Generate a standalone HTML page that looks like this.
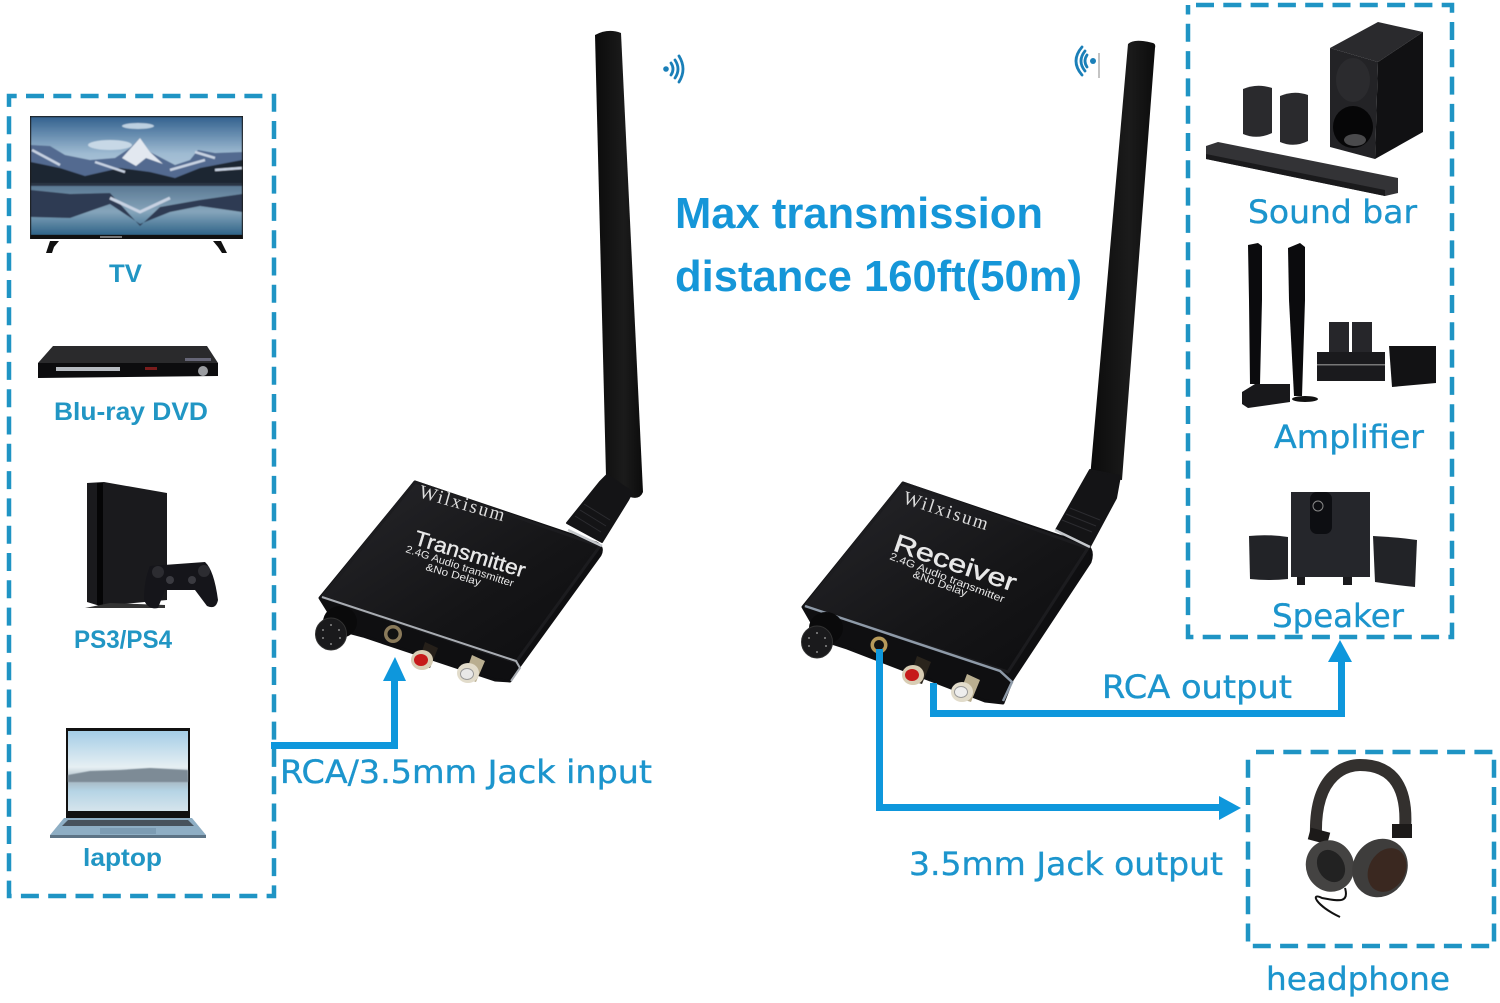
<!DOCTYPE html>
<html lang="en">
<head>
<meta charset="utf-8">
<title>Wireless audio transmitter and receiver</title>
<style>
html,body{margin:0;padding:0;background:#fff;width:1500px;height:1003px;overflow:hidden}
svg{display:block}
.thin{font-family:"DejaVu Sans","Liberation Sans",sans-serif;font-size:32px;fill:#1c95cd;stroke:#1c95cd;stroke-width:.35}
.lbl{font-family:"Liberation Sans",sans-serif;font-weight:700;font-size:25px;fill:#2196c4}
.ttl{font-family:"Liberation Sans",sans-serif;font-weight:700;font-size:44px;fill:#1596d8}
.dev{font-family:"Liberation Sans",sans-serif;fill:#e8e8e8}
.ser{font-family:"Liberation Serif",serif;fill:#ddd}
</style>
</head>
<body>
<svg width="1500" height="1003" viewBox="0 0 1500 1003" xmlns="http://www.w3.org/2000/svg">
<defs>
<linearGradient id="sky" x1="0" y1="0" x2="0" y2="1"><stop offset="0" stop-color="#33628f"/><stop offset=".55" stop-color="#9fbbd2"/><stop offset="1" stop-color="#b9ccdc"/></linearGradient>
<linearGradient id="lake" x1="0" y1="0" x2="0" y2="1"><stop offset="0" stop-color="#56748f"/><stop offset=".55" stop-color="#86a5bb"/><stop offset="1" stop-color="#2f6488"/></linearGradient>
<linearGradient id="lap" x1="0" y1="0" x2="0" y2="1"><stop offset="0" stop-color="#a4cde6"/><stop offset=".45" stop-color="#e6eff3"/><stop offset=".62" stop-color="#a7b8c2"/><stop offset=".75" stop-color="#b5d4e5"/><stop offset="1" stop-color="#d5e4ec"/></linearGradient>
<linearGradient id="ant" x1="0" y1="0" x2="1" y2="0"><stop offset="0" stop-color="#0b0b0b"/><stop offset=".6" stop-color="#1b1b1b"/><stop offset="1" stop-color="#0c0c0c"/></linearGradient>
<linearGradient id="box" x1="0" y1="0" x2="1" y2="1"><stop offset="0" stop-color="#26262a"/><stop offset=".6" stop-color="#151517"/><stop offset="1" stop-color="#0d0d0f"/></linearGradient>
<filter id="soft" x="-5%" y="-5%" width="110%" height="110%"><feGaussianBlur stdDeviation=".6"/></filter>
</defs>
<rect width="1500" height="1003" fill="#fff"/>

<!-- dashed frames -->
<g fill="none" stroke="#1f94c4" stroke-width="4.500" stroke-dasharray="18 9.300">
<path d="M9 96H274V896H9Z" stroke-dashoffset="-17"/>
<path d="M1188 5H1452V637H1188Z" stroke-dashoffset="-8"/>
<path d="M1248 752H1494V946H1248Z" stroke-dashoffset="-8"/>
</g>

<!-- TV -->
<rect x="30" y="116" width="213" height="123" fill="#1a1a1a"/>
<g filter="url(#soft)">
<rect x="31" y="117" width="211" height="67" fill="url(#sky)"/>
<ellipse cx="110" cy="145" rx="22" ry="5" fill="#c7d8e6"/><ellipse cx="138" cy="126" rx="16" ry="3" fill="#bcd0e1"/>
<polygon points="31,145 50,146 65,155 90,160 115,158 130,148 140,138 150,152 175,165 190,160 198,150 215,153 242,152 242,183 31,183" fill="#536a90"/>
<polygon points="31,162 60,168 85,176 120,168 150,172 175,178 200,168 242,160 242,183 31,183" fill="#1f2530"/>
<polygon points="122,158 140,138 150,152 163,164 146,158 136,166" fill="#e2e8f0"/>
<path d="M32 150 L60 165 M95 162 L125 172 M170 170 L205 160 M195 152 L215 158 M215 170 L242 168" stroke="#c7d2e2" stroke-width="2.500" fill="none"/>
<rect x="31" y="183" width="211" height="52" fill="url(#lake)"/>
<polygon points="31,190 70,194 110,193 140,226 160,207 200,200 242,194 242,212 200,206 170,212 140,224 110,204 70,218 31,217" fill="#2e3a52"/>
<path d="M110 198 L140 212 L170 198" stroke="#c7d2e2" stroke-width="3" fill="none"/>
<rect x="31" y="183" width="211" height="3" fill="#2a3644"/>
</g>
<rect x="31" y="235" width="211" height="4" fill="#111"/>
<rect x="100" y="236" width="22" height="2" fill="#777"/>
<path d="M46 253 L50 241 H59 L54 247 L52 253Z M213 241 H221 L227 253 L222 253 L218 247Z" fill="#111"/>

<!-- DVD -->
<polygon points="53,346 207,346 218,363 38,363" fill="#2a2a2c"/>
<polygon points="38,363 218,363 218,376 38,378" fill="#0c0c0e"/>
<rect x="56" y="367" width="64" height="4" fill="#b6bac0"/>
<circle cx="203" cy="371" r="5" fill="#9a9ca0"/>
<rect x="145" y="367" width="12" height="3" fill="#7a1c1c"/>
<rect x="185" y="358" width="26" height="3" fill="#667"/>

<!-- PS4 -->
<polygon points="87,483 104,482 167,493 167,600 100,606 87,602" fill="#1a1a1d"/>
<rect x="97" y="483" width="6" height="122" fill="#050506"/>
<path d="M85 608 L110 603 L165 605 L165 608Z" fill="#333"/>
<path d="M150 566 L205 562 Q214 570 218 600 Q216 610 207 606 L195 590 H165 L158 608 Q148 610 144 600 Q144 580 150 566Z" fill="#15151a"/>
<circle cx="158" cy="572" r="6" fill="#2c2c31"/><circle cx="204" cy="571" r="6" fill="#2c2c31"/>
<circle cx="170" cy="580" r="4" fill="#3a3a40"/><circle cx="192" cy="580" r="4" fill="#3a3a40"/>

<!-- Laptop -->
<rect x="66" y="728" width="124" height="90" fill="#111"/>
<rect x="68" y="731" width="120" height="80" fill="url(#lap)"/>
<polygon points="68,775 90,771 120,770 150,768 188,770 188,782 68,782" fill="#7d8b96" filter="url(#soft)"/>
<polygon points="64,818 192,818 206,835 50,835" fill="#8eaec4"/>
<rect x="50" y="835" width="156" height="3" fill="#5d7486"/>
<polygon points="68,820 188,820 194,826 62,826" fill="#47525c"/>
<rect x="100" y="828" width="56" height="6" fill="#7c9cb3"/>

<!-- Left labels -->
<text class="lbl" x="109" y="282" textLength="33" lengthAdjust="spacingAndGlyphs">TV</text>
<text class="lbl" x="54" y="420" textLength="154" lengthAdjust="spacingAndGlyphs">Blu-ray DVD</text>
<text class="lbl" x="74" y="648" textLength="98" lengthAdjust="spacingAndGlyphs">PS3/PS4</text>
<text class="lbl" x="83" y="866" textLength="79" lengthAdjust="spacingAndGlyphs">laptop</text>

<!-- Transmitter antenna -->
<path d="M595 35 Q608 28 621 33 L643 492 Q640 500 630 497 L606 476Z" fill="url(#ant)"/>
<path d="M600 482 L607 475 L632 492 L628 500 L602 542 L567 523Z" fill="#141416" stroke="#141416" stroke-width="2" stroke-linejoin="round"/>
<g stroke="#2c2c30" stroke-width="1"><path d="M584 504 L610 520M580 510 L606 526M575 516 L601 532"/></g>
<!-- Transmitter body -->
<path d="M415 482 L596 543 Q604 547 600 555 L518 668 L510 681 L495 680 L363 636 L340 630 L320 598 Z" fill="#0f0f11" stroke="#0f0f11" stroke-width="3" stroke-linejoin="round"/>
<polygon points="415,482 600,546 516,662 322,597" fill="url(#box)" stroke="#1c1c1f" stroke-width="3" stroke-linejoin="round"/>
<path d="M322 597 L516 661 L520 668 L511 681" fill="none" stroke="#a8acb2" stroke-width="2"/>
<path d="M568 530 L602 546" stroke="#c5c8cc" stroke-width="2.500"/>
<text class="ser" font-size="19" letter-spacing="2" transform="translate(418 497) rotate(16)">Wilxisum</text>
<text class="dev" font-size="21" stroke="#e8e8e8" stroke-width=".4" transform="translate(413 544) rotate(17)" textLength="115" lengthAdjust="spacingAndGlyphs">Transmitter</text>
<text class="dev" font-size="10.500" transform="translate(405 552) rotate(18)" textLength="113" lengthAdjust="spacingAndGlyphs">2.4G Audio transmitter</text>
<text class="dev" font-size="10.500" transform="translate(425 570) rotate(16)" textLength="57" lengthAdjust="spacingAndGlyphs">&amp;No Delay</text>
<ellipse cx="340" cy="622" rx="17" ry="16" fill="#0a0a0b"/>
<ellipse cx="331" cy="634" rx="15.500" ry="16" fill="#1a1a1c" stroke="#333" stroke-width="1"/>
<g fill="#aaa"><circle cx="331" cy="625" r=".9"/><circle cx="339" cy="630" r=".9"/><circle cx="340" cy="638" r=".9"/><circle cx="331" cy="644" r=".9"/><circle cx="323" cy="638" r=".9"/><circle cx="323" cy="630" r=".9"/></g>
<circle cx="393" cy="634" r="9" fill="#8a7a5a"/><circle cx="393" cy="634" r="5.500" fill="#111"/>
<path d="M425 642 L438 648 L430 668 L418 664Z" fill="#26201a"/>
<ellipse cx="422" cy="660" rx="11" ry="10" fill="#d8cdb4"/><ellipse cx="421" cy="660" rx="7" ry="6" fill="#c61a1a"/>
<path d="M472 655 L485 661 L476 682 L464 678Z" fill="#b9ae90"/>
<ellipse cx="468" cy="673" rx="11" ry="10" fill="#e2dccb"/><ellipse cx="467" cy="674" rx="6.500" ry="5.500" fill="#e8e8e8" stroke="#999"/>

<!-- Receiver antenna -->
<path d="M1128 44 Q1134 38 1153 43 Q1156 44 1155 48 L1122 480 L1090 478Z" fill="url(#ant)"/>
<path d="M1090 470 L1120 476 L1116 498 L1088 550 L1056 530 Z" fill="#141416" stroke="#141416" stroke-width="2" stroke-linejoin="round"/>
<g stroke="#2c2c30" stroke-width="1"><path d="M1070 508 L1100 520M1066 514 L1096 526M1062 520 L1092 532"/></g>
<!-- Receiver body -->
<path d="M903 483 L1086 545 Q1094 550 1090 562 L1012 680 L1003 703 L985 701 L847 648 L822 640 L803 607 Z" fill="#0f0f11" stroke="#0f0f11" stroke-width="3" stroke-linejoin="round"/>
<polygon points="903,483 1088,548 1008,672 805,606" fill="url(#box)" stroke="#1c1c1f" stroke-width="3" stroke-linejoin="round"/>
<path d="M805 606 L1000 671 L1012 682 L1003 701" fill="none" stroke="#8e9aa8" stroke-width="2.500"/>
<path d="M1055 530 L1090 547" stroke="#c5c8cc" stroke-width="2.500"/>
<text class="ser" font-size="19" letter-spacing="2" transform="translate(902 503) rotate(18)">Wilxisum</text>
<text class="dev" font-size="25" stroke="#e8e8e8" stroke-width=".5" transform="translate(892 550) rotate(19)" textLength="128" lengthAdjust="spacingAndGlyphs">Receiver</text>
<text class="dev" font-size="10.500" transform="translate(889 559) rotate(21)" textLength="122" lengthAdjust="spacingAndGlyphs">2.4G Audio transmitter</text>
<text class="dev" font-size="10.500" transform="translate(912 577) rotate(20)" textLength="57" lengthAdjust="spacingAndGlyphs">&amp;No Delay</text>
<ellipse cx="826" cy="628" rx="17" ry="16" fill="#0a0a0b"/>
<ellipse cx="817" cy="642" rx="15.500" ry="16" fill="#1a1a1c" stroke="#333" stroke-width="1"/>
<g fill="#aaa"><circle cx="817" cy="633" r=".9"/><circle cx="825" cy="638" r=".9"/><circle cx="826" cy="646" r=".9"/><circle cx="817" cy="652" r=".9"/><circle cx="809" cy="646" r=".9"/><circle cx="809" cy="638" r=".9"/></g>
<circle cx="879" cy="645" r="8.500" fill="#b79a5a"/><circle cx="879" cy="645" r="5" fill="#111"/>
<path d="M917 656 L931 662 L922 684 L909 680Z" fill="#2a241c"/>
<ellipse cx="913" cy="675" rx="11" ry="10" fill="#d8cdb4"/><ellipse cx="912" cy="675" rx="7" ry="6" fill="#c61a1a"/>
<path d="M967 674 L980 680 L971 702 L958 698Z" fill="#b9ae90"/>
<ellipse cx="962" cy="692" rx="11" ry="10" fill="#e2dccb"/><ellipse cx="961" cy="692" rx="6.500" ry="5.500" fill="#eee" stroke="#999"/>

<!-- Wi-Fi glyphs -->
<g fill="none" stroke="#1a7fb8" stroke-width="2.800" stroke-linecap="round">
<circle cx="666" cy="69" r="2.800" fill="#1a7fb8" stroke="none"/>
<path d="M671 63 Q675 69 671 75M675 60 Q681 69 675 78M679 56 Q687 69 679 82"/>
<circle cx="1093" cy="61" r="3" fill="#1a7fb8" stroke="none"/>
<path d="M1087 55 Q1083 61 1087 67M1085 51 Q1077 61 1085 71M1082 47 Q1070 61 1082 75"/>
</g>
<path d="M1099 53 V78" stroke="#888" stroke-width="1"/>

<!-- Connectors -->
<g fill="none" stroke="#0e97dc" stroke-width="7">
<path d="M271 745.500 H394.500 V678"/>
<path d="M933.500 683 V713.500 H1341.500 V660"/>
<path d="M879.500 649 V807.500 H1222"/>
</g>
<g fill="#0e97dc">
<polygon points="395,657 383,681 406,681"/>
<polygon points="1340,640 1328,662 1352,662"/>
<polygon points="1241,808 1219,796 1219,820"/>
</g>

<!-- Title -->
<text class="ttl" x="675" y="228" textLength="368" lengthAdjust="spacingAndGlyphs">Max transmission</text>
<text class="ttl" x="675" y="291" textLength="407" lengthAdjust="spacingAndGlyphs">distance 160ft(50m)</text>

<!-- Thin labels -->
<text class="thin" x="280" y="783" textLength="372" lengthAdjust="spacingAndGlyphs">RCA/3.5mm Jack input</text>
<text class="thin" x="1102" y="698" textLength="190" lengthAdjust="spacingAndGlyphs">RCA output</text>
<text class="thin" x="909" y="875" textLength="314" lengthAdjust="spacingAndGlyphs">3.5mm Jack output</text>
<text class="thin" x="1266" y="990" textLength="184" lengthAdjust="spacingAndGlyphs">headphone</text>
<text class="thin" x="1248" y="223" textLength="169" lengthAdjust="spacingAndGlyphs">Sound bar</text>
<text class="thin" x="1274" y="448" textLength="150" lengthAdjust="spacingAndGlyphs">Amplifier</text>
<text class="thin" x="1272" y="627" textLength="132" lengthAdjust="spacingAndGlyphs">Speaker</text>

<!-- Sound bar set -->
<polygon points="1330,48 1378,22 1423,32 1378,62" fill="#2a2a2d"/>
<polygon points="1330,48 1378,62 1375,159 1330,147" fill="#232326"/>
<polygon points="1378,62 1423,32 1423,132 1375,159" fill="#111113"/>
<ellipse cx="1353" cy="80" rx="17" ry="22" fill="#2b2b2e"/>
<ellipse cx="1353" cy="127" rx="20" ry="21" fill="#060607"/>
<ellipse cx="1355" cy="140" rx="11" ry="6" fill="#4a4a4c"/>
<path d="M1243 89 Q1257 83 1272 88 V133 Q1257 140 1243 134Z" fill="#2a2a2d"/>
<path d="M1280 96 Q1294 90 1308 95 V141 Q1294 148 1280 142Z" fill="#2a2a2d"/>
<path d="M1206 146 L1218 142 L1398 178 V193 L1385 196 L1206 159Z" fill="#333336"/>
<path d="M1206 154 L1385 190 L1385 196 L1206 159Z" fill="#1a1a1c"/>

<!-- Amplifier set -->
<path d="M1248 245 L1258 243 L1262 246 V300 L1260 384 H1250 L1249 300Z" fill="#0b0b0d"/>
<path d="M1288 248 L1300 243 L1305 247 V300 L1302 396 H1294 L1289 300Z" fill="#0b0b0d"/>
<ellipse cx="1305" cy="399" rx="13" ry="3" fill="#111"/>
<path d="M1242 392 L1255 384 H1290 V402 L1248 408 L1242 404Z" fill="#18181b"/>
<rect x="1329" y="322" width="20" height="32" fill="#26262a"/>
<rect x="1352" y="322" width="20" height="32" fill="#26262a"/>
<rect x="1317" y="352" width="68" height="29" fill="#1a1a1d"/>
<rect x="1317" y="364" width="68" height="1.500" fill="#777"/>
<polygon points="1389,346 1436,346 1436,383 1392,387" fill="#121214"/>

<!-- Speaker set -->
<rect x="1291" y="492" width="79" height="85" fill="#25262b"/>
<rect x="1310" y="492" width="22" height="42" rx="7" fill="#0d0e12"/>
<circle cx="1318" cy="506" r="5" fill="none" stroke="#888" stroke-width="1"/>
<rect x="1297" y="577" width="8" height="8" fill="#1a1a1d"/><rect x="1343" y="577" width="9" height="8" fill="#1a1a1d"/>
<path d="M1249 536 Q1268 534 1288 537 V579 Q1268 581 1250 579Z" fill="#222327"/>
<path d="M1373 536 Q1395 537 1417 540 L1415 587 Q1395 585 1375 582Z" fill="#222327"/>

<!-- Headphones -->
<path d="M1316 836 C1314 770 1350 765 1360 765 C1395 765 1408 790 1405 830" fill="none" stroke="#33302e" stroke-width="12"/>
<rect x="1309" y="830" width="20" height="12" fill="#1c1a19" transform="rotate(15 1319 836)"/>
<rect x="1392" y="824" width="20" height="14" fill="#1c1a19"/>
<ellipse cx="1330" cy="866" rx="24" ry="26" fill="#444342" transform="rotate(-20 1330 866)"/>
<ellipse cx="1331" cy="866" rx="13" ry="17" fill="#222" transform="rotate(-30 1331 866)"/>
<ellipse cx="1380" cy="868" rx="27" ry="30" fill="#3e3d3c" transform="rotate(30 1380 868)"/>
<ellipse cx="1387" cy="870" rx="18" ry="23" fill="#3a2820" transform="rotate(30 1387 870)"/>
<path d="M1345 888 C1350 905 1335 900 1322 898 C1310 892 1315 905 1340 917" fill="none" stroke="#111" stroke-width="2"/>
</svg>
</body>
</html>
